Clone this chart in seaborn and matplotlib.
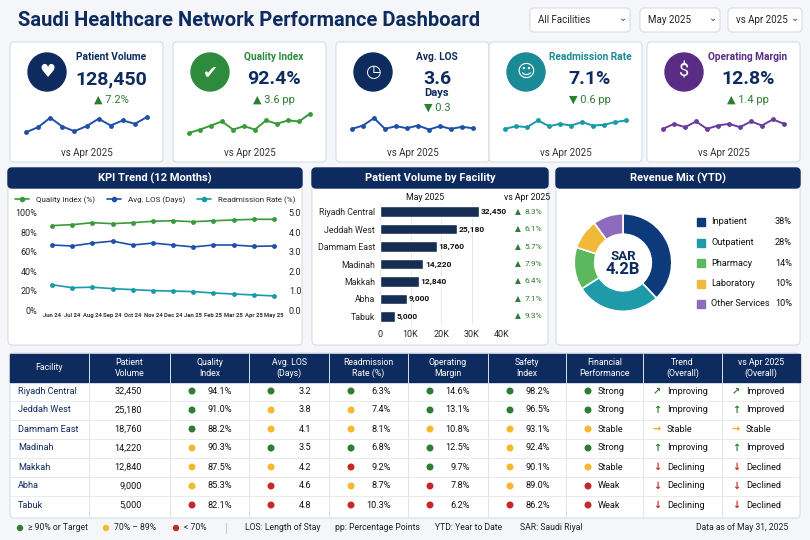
import matplotlib
matplotlib.use("Agg")
import matplotlib.pyplot as plt
from matplotlib.patches import FancyBboxPatch, Circle, Rectangle
from matplotlib.lines import Line2D
import seaborn as sns
import pandas as pd

sns.set_theme(style="white")
plt.rcParams["font.family"] = ["Roboto", "DejaVu Sans"]

NAVY = "#0d2b5e"
GREEN = "#2e7d32"
YELLOW = "#f5b82e"
RED = "#c62828"

# ---- data ----
kpi_titles = ["Patient Volume", "Quality Index", "Avg. LOS", "Readmission Rate", "Operating Margin"]
kpi_values = ["128,450", "92.4%", "3.6", "7.1%", "12.8%"]
kpi_deltas = ["▲ 7.2%", "▲ 3.6 pp", "▼ 0.3", "▼ 0.6 pp", "▲ 1.4 pp"]
kpi_icons = ["♥", "✔", "◷", "☺", "$"]
kpi_colors = [NAVY, "#2e8b3e", NAVY, "#1a8a96", "#5b2c83"]
spark_colors = ["#1f4fa8", "#3a9a3a", "#1f4fa8", "#1a9aa8", "#6a3d9a"]
spark_pv = [20, 35, 63, 37, 23, 38, 60, 40, 55, 45, 65]
spark_qi = [18, 28, 40, 52, 28, 38, 28, 55, 45, 55, 52, 75]
spark_los = [30, 40, 62, 30, 38, 32, 40, 28, 38, 30, 36, 32]
spark_ra = [30, 38, 35, 55, 38, 45, 40, 50, 40, 42, 50, 55]
spark_om = [30, 45, 35, 52, 30, 40, 45, 35, 52, 40, 58, 45]

months = ["Jun 24", "Jul 24", "Aug 24", "Sep 24", "Oct 24", "Nov 24", "Dec 24",
          "Jan 25", "Feb 25", "Mar 25", "Apr 25", "May 25"]
quality_trend = [87, 88, 90, 89, 90, 91.5, 92, 91, 92, 92.8, 93.5, 93.5]
los_trend = [3.35, 3.3, 3.45, 3.55, 3.35, 3.45, 3.35, 3.25, 3.35, 3.35, 3.28, 3.3]
readm_trend = [26, 23, 23.5, 22, 21, 20, 19.5, 19, 17.5, 16.5, 15.5, 14.5]

facilities = ["Riyadh Central", "Jeddah West", "Dammam East", "Madinah", "Makkah", "Abha", "Tabuk"]
volume = [32450, 25180, 18760, 14220, 12840, 9000, 5000]
volume_change = [8.3, 6.1, 5.7, 7.9, 6.4, 7.1, 9.3]

rev_labels = ["Inpatient", "Outpatient", "Pharmacy", "Laboratory", "Other Services"]
rev_share = [38, 28, 14, 10, 10]
rev_colors = ["#0d3a7a", "#1e9aa8", "#5cb85c", "#f0b93a", "#8e6bbf"]

quality_idx = [94.1, 91.0, 88.2, 90.3, 87.5, 85.3, 82.1]
avg_los = [3.2, 3.8, 4.1, 3.5, 4.2, 4.6, 4.8]
readm_rate = [6.3, 7.4, 8.1, 6.8, 9.2, 8.7, 10.3]
op_margin = [14.6, 13.1, 10.8, 12.5, 9.7, 7.8, 6.2]
safety_idx = [98.2, 96.5, 93.1, 92.4, 90.1, 89.0, 86.2]
financial = ["Strong", "Strong", "Stable", "Strong", "Stable", "Weak", "Weak"]
trend_overall = ["Improving", "Improving", "Stable", "Improving", "Declining", "Declining", "Declining"]
vs_apr = ["Improved", "Improved", "Stable", "Improved", "Declined", "Declined", "Declined"]
# status codes: g / y / r
st_quality = "gggyyyr"
st_los = "gyygyrr"
st_readm = "gyygryr"
st_margin = "ggyggrr"
st_safety = "ggyyyyr"
st_fin = "ggygyrr"

W, H = 810, 540
fig = plt.figure(figsize=(8.1, 5.4), dpi=100)
fig.patch.set_facecolor("#f4f6f9")
bg = fig.add_axes([0, 0, 1, 1])
bg.set_xlim(0, W)
bg.set_ylim(H, 0)
bg.axis("off")


def px(x, y, w, h):
    return [x / W, 1 - (y + h) / H, w / W, h / H]


def card(x, y, w, h, fc="white"):
    bg.add_patch(FancyBboxPatch((x, y), w, h, boxstyle="round,pad=0,rounding_size=4",
                                fc=fc, ec="#d8dde5", lw=0.8))


# ---- title and filters ----
bg.text(18, 20, "Saudi Healthcare Network Performance Dashboard", fontsize=14.5,
        fontweight="bold", color=NAVY, va="center")
for x0, w, lab in [(530, 100, "All Facilities"), (640, 80, "May 2025"), (728, 74, "vs Apr 2025")]:
    card(x0, 8, w, 24)
    bg.text(x0 + 8, 20, lab, fontsize=7, color="#222", va="center")
    bg.text(x0 + w - 7, 18, "⌄", fontsize=7, color="#444", va="center", ha="center")

# ---- KPI cards ----
card_x = [10, 173, 336, 489, 647]
sparks = [spark_pv, spark_qi, spark_los, spark_ra, spark_om]
for i in range(5):
    x0 = card_x[i]
    cw = 153
    card(x0, 42, cw, 120)
    bg.add_patch(Circle((x0 + 37, 72), 19, color=kpi_colors[i]))
    bg.text(x0 + 37, 72, kpi_icons[i], fontsize=13, color="white", ha="center", va="center")
    cx = x0 + 101
    bg.text(cx, 57, kpi_titles[i], fontsize=7.3, fontweight="bold", color=kpi_colors[i], ha="center", va="center")
    bg.text(cx, 79, kpi_values[i], fontsize=14, fontweight="bold", color=NAVY, ha="center", va="center")
    if i == 2:
        bg.text(cx, 93, "Days", fontsize=8, fontweight="bold", color=NAVY, ha="center", va="center")
        bg.text(cx, 108, kpi_deltas[i], fontsize=8, color=GREEN, ha="center", va="center")
    else:
        bg.text(cx, 100, kpi_deltas[i], fontsize=8, color=GREEN, ha="center", va="center")
    bg.text(x0 + cw / 2, 153, "vs Apr 2025", fontsize=7, color="#333", ha="center", va="center")
    sp = fig.add_axes(px(x0 + 10, 112, cw - 20, 27))
    sdf = pd.DataFrame({"i": range(len(sparks[i])), "v": sparks[i]})
    sns.lineplot(data=sdf, x="i", y="v", ax=sp, color=spark_colors[i], lw=1.4,
                 marker="o", markersize=3.5, markeredgewidth=0)
    sp.set_ylim(0, 80)
    sp.axis("off")

# ---- panels ----
for x0, w, title in [(8, 294, "KPI Trend (12 Months)"), (312, 236, "Patient Volume by Facility"),
                     (556, 244, "Revenue Mix (YTD)")]:
    card(x0, 168, w, 177)
    bg.add_patch(FancyBboxPatch((x0, 168), w, 20, boxstyle="round,pad=0,rounding_size=4", fc=NAVY, ec=NAVY))
    bg.text(x0 + w / 2, 178, title, fontsize=8, fontweight="bold", color="white", ha="center", va="center")

# KPI trend
ax = fig.add_axes(px(40, 213, 246, 97))
tdf = pd.DataFrame({"m": range(12), "q": quality_trend, "r": readm_trend})
sns.lineplot(data=tdf, x="m", y="q", ax=ax, color="#3a9a3a", marker="o", markersize=3.5,
             markeredgewidth=0, lw=1.2)
ax2 = ax.twinx()
sns.lineplot(data=pd.DataFrame({"m": range(12), "l": los_trend}), x="m", y="l", ax=ax2,
             color="#1f4fa8", marker="o", markersize=3.5, markeredgewidth=0, lw=1.2)
sns.lineplot(data=tdf, x="m", y="r", ax=ax, color="#1a9aa8", marker="o", markersize=3.5,
             markeredgewidth=0, lw=1.2)
ax.set_ylim(0, 100)
ax2.set_ylim(0, 5)
ax.set_yticks([0, 20, 40, 60, 80, 100])
ax.set_yticklabels([f"{v}%" for v in [0, 20, 40, 60, 80, 100]], fontsize=6.5)
ax2.set_yticks([0, 1, 2, 3, 4, 5])
ax2.set_yticklabels([f"{v:.1f}" for v in range(6)], fontsize=6.5)
ax.set_xticks(range(12))
ax.set_xticklabels(months, fontsize=4.2, fontweight="bold", color="#333")
ax.set_xlim(-0.6, 11.6)
ax.set_xlabel("")
ax.set_ylabel("")
ax2.set_ylabel("")
for a in (ax, ax2):
    for s in a.spines.values():
        s.set_visible(False)
    a.tick_params(length=0, pad=2)
hl = [Line2D([], [], color=c, marker="o", markersize=3, lw=1.2) for c in ["#3a9a3a", "#1f4fa8", "#1a9aa8"]]
fig.legend(hl, ["Quality Index (%)", "Avg. LOS (Days)", "Readmission Rate (%)"], ncol=3,
           loc="center", bbox_to_anchor=(155 / W, 1 - 200 / H), frameon=False, fontsize=5.8,
           handlelength=1.8, columnspacing=1.5)

# Patient volume by facility
bx = fig.add_axes(px(380, 203, 122, 122))
bdf = pd.DataFrame({"f": facilities, "v": volume})
sns.barplot(data=bdf, y="f", x="v", ax=bx, color=NAVY, width=0.6, orient="h")
bx.set_xlim(0, 40000)
bx.set_xticks([0, 10000, 20000, 30000, 40000])
bx.set_xticklabels(["0", "10K", "20K", "30K", "40K"], fontsize=6.5)
bx.tick_params(axis="y", labelsize=6.3, length=0)
bx.tick_params(axis="x", length=0)
bx.set_xlabel("")
bx.set_ylabel("")
bx.xaxis.grid(True, color="#e5e5e5", lw=0.6)
bx.set_axisbelow(True)
for s in bx.spines.values():
    s.set_visible(False)
for j, (v, c) in enumerate(zip(volume, volume_change)):
    bx.text(v + 500, j, f"{v:,}", fontsize=6, fontweight="bold", color="#111", va="center")
    bx.text(44300, j, "▲", fontsize=5.5, color=GREEN, va="center")
    bx.text(47300, j, f"{c}%", fontsize=6, color=GREEN, va="center")
bg.text(425, 198, "May 2025", fontsize=6.3, color="#111", ha="center", va="center")
bg.text(527, 198, "vs Apr 2025", fontsize=6.3, color="#111", ha="center", va="center")

# Revenue mix donut
dx = fig.add_axes(px(562, 200, 122, 125))
dx.pie(rev_share, colors=rev_colors, startangle=90, counterclock=False,
       wedgeprops=dict(width=0.42, edgecolor="white", lw=1.2))
dx.text(0, 0.13, "SAR", fontsize=9.5, fontweight="bold", color=NAVY, ha="center", va="center")
dx.text(0, -0.15, "4.2B", fontsize=12, fontweight="bold", color=NAVY, ha="center", va="center")
dx.set_aspect("equal")
for j, (lab, s, c) in enumerate(zip(rev_labels, rev_share, rev_colors)):
    yy = 222 + j * 20.5
    bg.add_patch(Rectangle((697, yy - 4), 8, 8, color=c))
    bg.text(711, yy, lab, fontsize=6.6, color="#111", va="center")
    bg.text(792, yy, f"{s}%", fontsize=6.6, color="#111", va="center", ha="right")

# ---- table ----
card(10, 353, 790, 165)
bg.add_patch(Rectangle((10, 354), 790, 28, color=NAVY))
col_edges = [10, 89, 170, 249, 329, 408, 488, 566, 643, 722, 800]
headers = ["Facility", "Patient\nVolume", "Quality\nIndex", "Avg. LOS\n(Days)", "Readmission\nRate (%)",
           "Operating\nMargin", "Safety\nIndex", "Financial\nPerformance", "Trend\n(Overall)", "vs Apr 2025\n(Overall)"]
for k, h in enumerate(headers):
    cx = (col_edges[k] + col_edges[k + 1]) / 2
    bg.text(cx, 368, h, fontsize=6.3, color="white", ha="center", va="center", linespacing=1.3)
    if 0 < k:
        bg.plot([col_edges[k]] * 2, [354, 517], color="#dfe3ea", lw=0.7)
dot_col = {"g": GREEN, "y": YELLOW, "r": RED}
trend_style = {"Improving": ("↑", GREEN), "Stable": ("→", "#f0a020"), "Declining": ("↓", RED),
               "Improved": ("↑", GREEN), "Declined": ("↓", RED)}
for r in range(7):
    yy = 391 + r * 19
    if r < 6:
        bg.plot([10, 800], [yy + 9.5, yy + 9.5], color="#e3e6eb", lw=0.6)
    bg.text(18, yy, facilities[r], fontsize=6.6, color=NAVY, va="center")
    bg.text(142, yy, f"{volume[r]:,}", fontsize=6.6, color="#111", va="center", ha="right")
    cells = [(f"{quality_idx[r]}%", st_quality), (f"{avg_los[r]}", st_los), (f"{readm_rate[r]}%", st_readm),
             (f"{op_margin[r]}%", st_margin), (f"{safety_idx[r]}%", st_safety), (financial[r], st_fin)]
    for k, (txt, st) in enumerate(cells):
        c0 = col_edges[k + 2]
        bg.add_patch(Circle((c0 + 22, yy), 2.8, color=dot_col[st[r]]))
        if k < 5:
            bg.text(c0 + 62, yy, txt, fontsize=6.6, color="#111", va="center", ha="right")
        else:
            bg.text(c0 + 32, yy, txt, fontsize=6.6, color="#111", va="center")
    for k, lab in [(8, trend_overall[r]), (9, vs_apr[r])]:
        c0 = col_edges[k]
        arrow, col = trend_style[lab]
        if r == 0:
            arrow = "↗"
        bg.text(c0 + 14, yy, arrow, fontsize=7, color=col, va="center", ha="center", fontweight="bold")
        bg.text(c0 + 24, yy, lab, fontsize=6.6, color="#111", va="center")

# ---- footer ----
fy = 528
for x0, c, lab in [(20, GREEN, "≥ 90% or Target"), (106, YELLOW, "70% – 89%"), (176, RED, "< 70%")]:
    bg.add_patch(Circle((x0, fy), 2.5, color=c))
    bg.text(x0 + 8, fy, lab, fontsize=6.2, color="#222", va="center")
bg.plot([226, 226], [fy - 5, fy + 5], color="#ccc", lw=0.7)
for x0, lab in [(245, "LOS: Length of Stay"), (335, "pp: Percentage Points"),
                (435, "YTD: Year to Date"), (520, "SAR: Saudi Riyal")]:
    bg.text(x0, fy, lab, fontsize=6.2, color="#222", va="center")
bg.text(788, fy, "Data as of May 31, 2025", fontsize=6.2, color="#222", va="center", ha="right")

fig.savefig("out.png", dpi=100, facecolor=fig.get_facecolor())
